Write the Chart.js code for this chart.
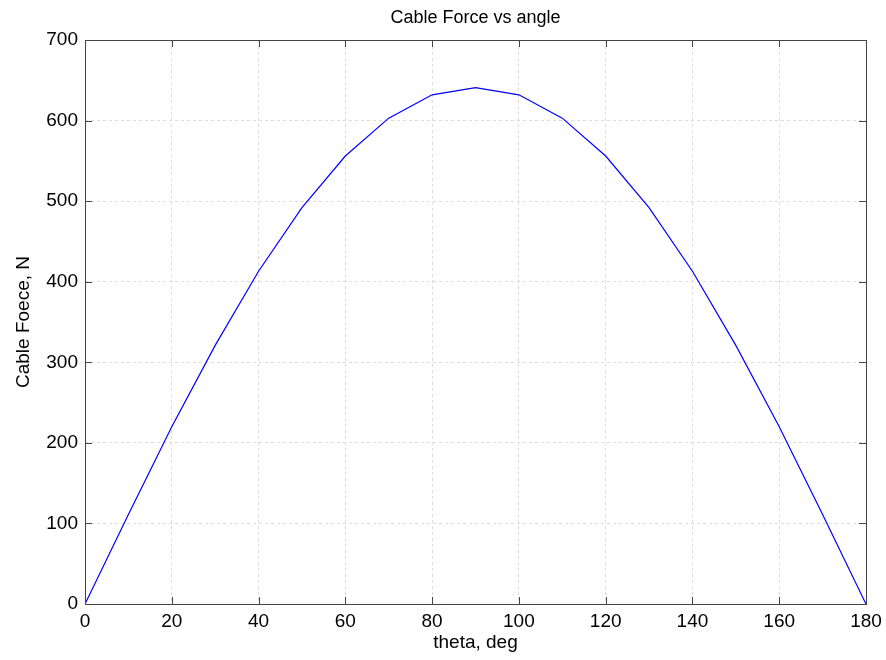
<!DOCTYPE html>
<html>
<head>
<meta charset="utf-8">
<script src="https://cdn.jsdelivr.net/npm/chart.js@4.4.1/dist/chart.umd.min.js"></script>
<style>
  html, body { margin: 0; padding: 0; background: #fff; }
</style>
</head>
<body>
<canvas id="chart" width="886" height="660"></canvas>
<script>
// angle in degrees, cable force in N
const theta = [0, 10, 20, 30, 40, 50, 60, 70, 80, 90, 100, 110, 120, 130, 140, 150, 160, 170, 180];
const force = [0, 111, 220, 321, 413, 492, 556, 603, 632, 641, 632, 603, 556, 492, 413, 321, 220, 111, 0];
const xTicks = [0, 20, 40, 60, 80, 100, 120, 140, 160, 180];
const yTicks = [0, 100, 200, 300, 400, 500, 600, 700];

const FONT = "'Liberation Sans', Arial, Helvetica, sans-serif";

// MATLAB-style box, inward ticks and centred title
const boxPlugin = {
  id: "box",
  afterDraw(chart) {
    const { ctx, chartArea: a, scales } = chart;
    const tl = 7;
    ctx.save();
    ctx.strokeStyle = "#444";
    ctx.lineWidth = 1;
    ctx.strokeRect(a.left + 0.5, a.top + 0.5, a.right - a.left, a.bottom - a.top);
    ctx.beginPath();
    xTicks.forEach((v) => {
      const x = Math.round(scales.x.getPixelForValue(v)) + 0.5;
      ctx.moveTo(x, a.bottom); ctx.lineTo(x, a.bottom - tl);
      ctx.moveTo(x, a.top); ctx.lineTo(x, a.top + tl);
    });
    yTicks.forEach((v) => {
      const y = Math.round(scales.y.getPixelForValue(v)) + 0.5;
      ctx.moveTo(a.left, y); ctx.lineTo(a.left + tl, y);
      ctx.moveTo(a.right, y); ctx.lineTo(a.right - tl, y);
    });
    ctx.stroke();

    ctx.fillStyle = "#000";
    ctx.font = "18px " + FONT;
    ctx.textAlign = "center";
    ctx.textBaseline = "middle";
    ctx.fillText("Cable Force vs angle", (a.left + a.right) / 2, 18);
    ctx.restore();
  },
};

new Chart(document.getElementById("chart"), {
  type: "line",
  data: {
    datasets: [
      {
        data: theta.map((t, i) => ({ x: t, y: force[i] })),
        borderColor: "#0000ff",
        borderWidth: 1.2,
        pointRadius: 0,
        tension: 0,
        fill: false,
      },
    ],
  },
  options: {
    responsive: false,
    animation: false,
    layout: { padding: { top: 40, right: 20, left: 0, bottom: 0 } },
    plugins: { legend: { display: false }, tooltip: { enabled: false } },
    scales: {
      x: {
        type: "linear",
        min: 0,
        max: 180,
        afterBuildTicks: (s) => { s.ticks = xTicks.map((v) => ({ value: v })); },
        afterFit: (s) => { s.height = 56; s.paddingLeft = 0; s.paddingRight = 0; },
        grid: { color: "#dcdcdc", lineWidth: 1, drawTicks: false },
        border: { display: false, dash: [3, 3] },
        ticks: { color: "#000", font: { family: FONT, size: 19 }, padding: 6, maxRotation: 0 },
        title: { display: true, text: "theta, deg", color: "#000", font: { family: FONT, size: 19 }, padding: { top: 0, bottom: 6 } },
      },
      y: {
        min: 0,
        max: 700,
        afterBuildTicks: (s) => { s.ticks = yTicks.map((v) => ({ value: v })); },
        afterFit: (s) => { s.width = 85; s.paddingTop = 0; s.paddingBottom = 0; },
        grid: { color: "#dcdcdc", lineWidth: 1, drawTicks: false },
        border: { display: false, dash: [3, 3] },
        ticks: { color: "#000", font: { family: FONT, size: 19 }, padding: 7 },
        title: { display: true, text: "Cable Foece, N", color: "#000", font: { family: FONT, size: 19 }, padding: { top: 12, bottom: 0 } },
      },
    },
  },
  plugins: [boxPlugin],
});
</script>
</body>
</html>
